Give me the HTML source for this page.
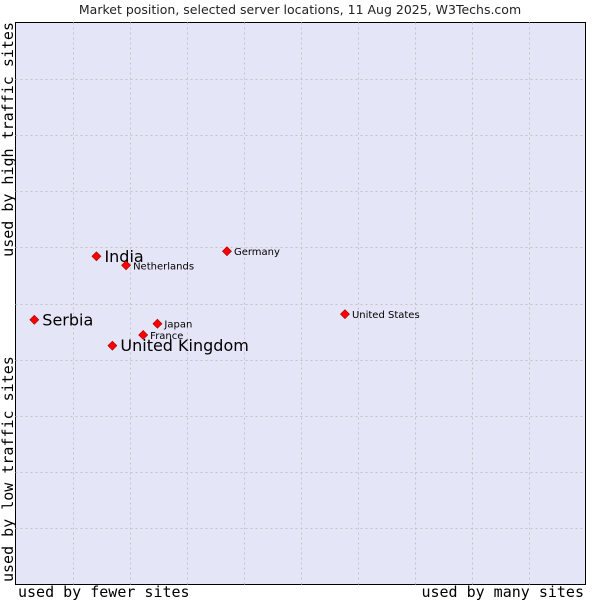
<!DOCTYPE html>
<html><head><meta charset="utf-8"><style>
body{margin:0;background:#fff;width:600px;height:600px;overflow:hidden}
svg text{font-family:"DejaVu Sans","Liberation Sans",sans-serif}
.mono{font-family:"DejaVu Sans Mono","Liberation Mono",monospace}
</style></head><body>
<svg id="chart" width="600" height="600">
<text x="300" y="14" text-anchor="middle" font-size="12.5" fill="#222">Market position, selected server locations, 11 Aug 2025, W3Techs.com</text>
<rect x="15.5" y="22.5" width="570" height="562" fill="#e4e6f8" stroke="#000"/>
<g id="grid"></g>
<g id="points"></g>
<text class="mono" x="18" y="597" font-size="15" fill="#000">used by fewer sites</text>
<text class="mono" x="584" y="597" font-size="15" text-anchor="end" fill="#000">used by many sites</text>
<text class="mono" transform="translate(13,22) rotate(-90)" text-anchor="end" font-size="15" fill="#000">used by high traffic sites</text>
<text class="mono" transform="translate(13,582) rotate(-90)" font-size="15" fill="#000">used by low traffic sites</text>
</svg>
<script>
const countries=["Serbia","India","Netherlands","Germany","United States","Japan","France","United Kingdom"];
const xValues=[3.3,14.2,19.4,37.1,57.8,24.9,22.4,17.0];
const yValues=[47.1,58.4,56.8,59.3,48.1,46.4,44.4,42.5];
const bigLabels=["Serbia","India","United Kingdom"];
const X0=15.5,X1=585.5,Y0=584.5,Y1=22.5;
const sx=v=>X0+(X1-X0)*v/100, sy=v=>Y0-(Y0-Y1)*v/100;
const NS="http://www.w3.org/2000/svg";
const grid=document.getElementById('grid');
for(let i=1;i<10;i++){
 const v=document.createElementNS(NS,'line');
 const x=Math.round(sx(i*10))+0.5;
 v.setAttribute('x1',x);v.setAttribute('x2',x);v.setAttribute('y1',Y1);v.setAttribute('y2',Y0);
 v.setAttribute('stroke','#c4c4c4');v.setAttribute('stroke-dasharray','2,3');
 
 
 grid.appendChild(v);
 const h=document.createElementNS(NS,'line');
 const y=Math.round(sy(i*10))+0.5;
 h.setAttribute('y1',y);h.setAttribute('y2',y);h.setAttribute('x1',X0);h.setAttribute('x2',X1);
 h.setAttribute('stroke','#c4c4c4');h.setAttribute('stroke-dasharray','2,3');
 
 
 grid.appendChild(h);
}
const pts=document.getElementById('points');
countries.forEach((c,i)=>{
 const x=sx(xValues[i]),y=sy(yValues[i]);
 const d=document.createElementNS(NS,'path');
 d.setAttribute('d',`M${x},${y-4.5}L${x+4.5},${y}L${x},${y+4.5}L${x-4.5},${y}Z`);
 d.setAttribute('fill','#ff0000');d.setAttribute('stroke','#a00000');d.setAttribute('stroke-width','0.6');
 
 
 pts.appendChild(d);
 const big=bigLabels.includes(c);
 const t=document.createElementNS(NS,'text');
 t.setAttribute('x',x+(big?8:7));t.setAttribute('y',y+(big?5.5:4));
 t.setAttribute('font-size',big?16:10);t.setAttribute('fill','#000');
 t.textContent=c;
 
 
 pts.appendChild(t);
});
</script>
</body></html>
